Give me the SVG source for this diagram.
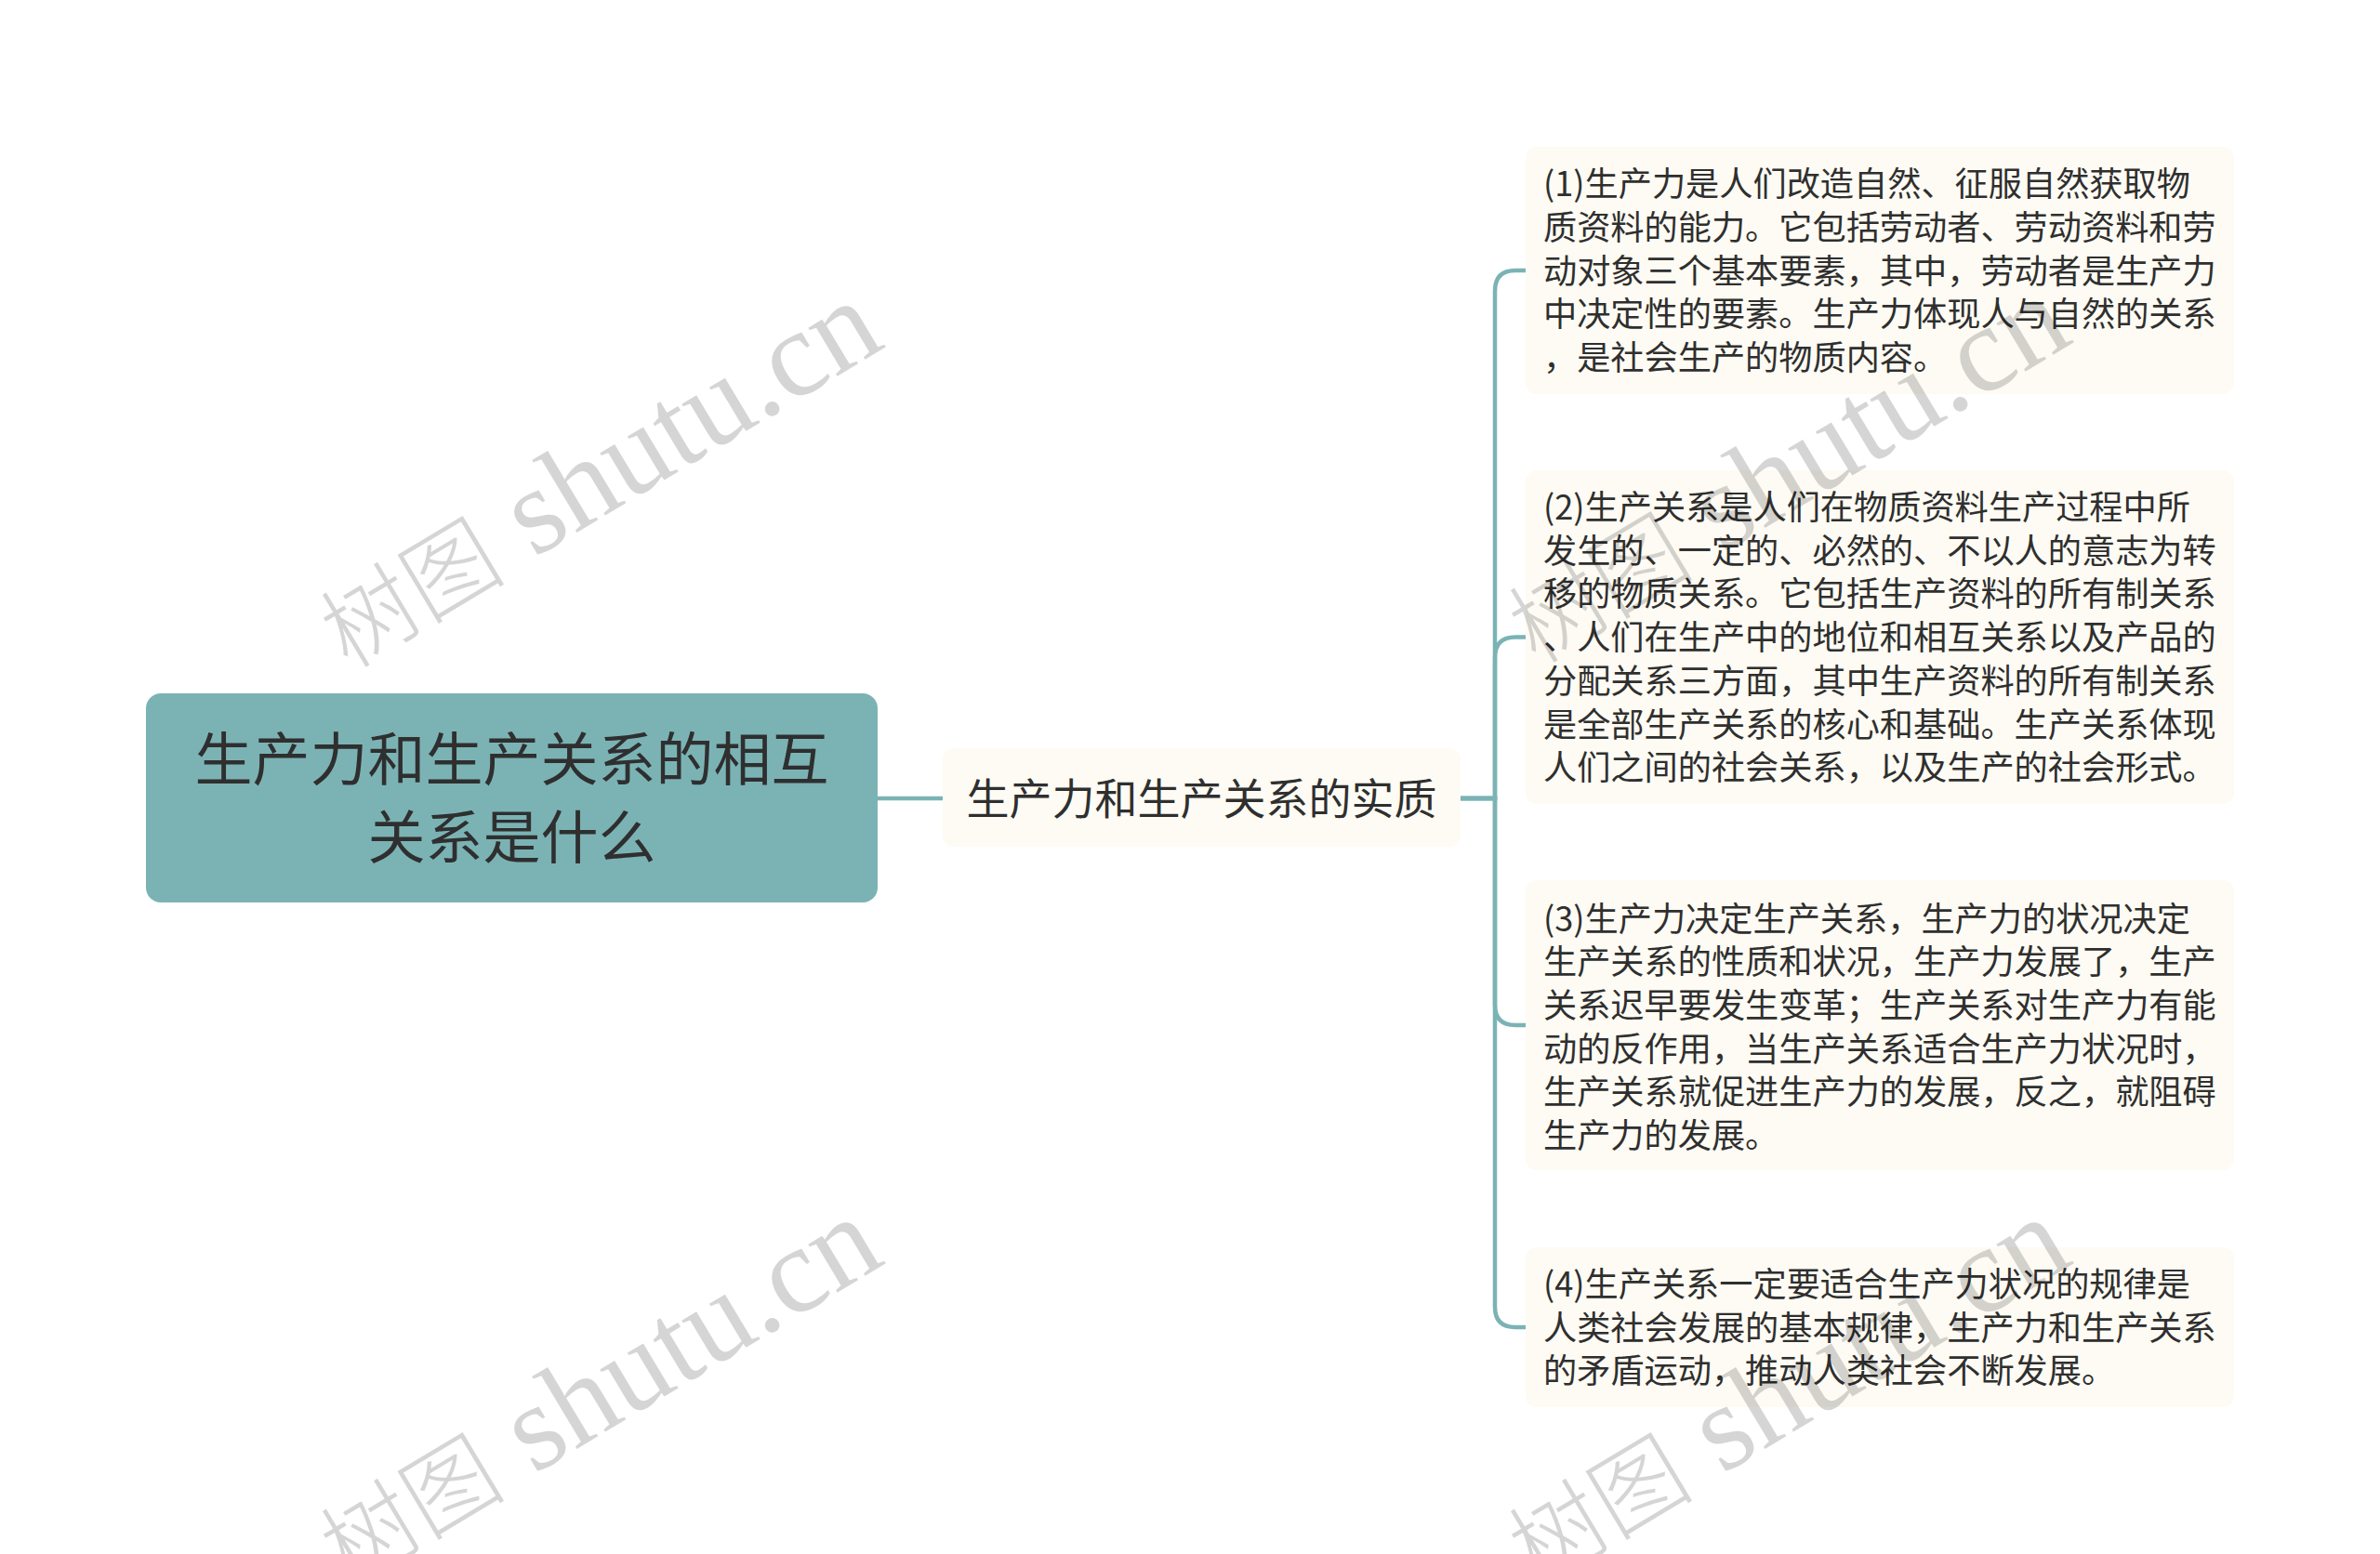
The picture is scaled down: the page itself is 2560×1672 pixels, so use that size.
<svg xmlns="http://www.w3.org/2000/svg" width="2560" height="1672" viewBox="0 0 2560 1672">
<style>
.bg{fill:#ffffff}
.root{fill:#7BB3B5}
.card{fill:#FDFBF3}
.link{fill:none;stroke:#7BB3B5;stroke-width:4.5;stroke-linecap:round}
.t{font-family:"Noto Sans CJK SC","Noto Sans",sans-serif;fill:#2f2f2f}
.rt{font-size:62px;text-anchor:middle}
.mt{font-size:46px;text-anchor:middle}
.ct{font-size:36.2px}
.wm{font-family:"Liberation Serif","Noto Sans CJK SC",serif;font-size:132px;fill:#000;opacity:0.16;text-anchor:middle}
.wz{font-family:"Noto Sans CJK SC",sans-serif;font-size:100px;font-weight:300}
</style>
<rect class="bg" x="0" y="0" width="2560" height="1672"/>
<g id="connectors">
<path class="link" d="M944 859 H1014"/>
<path class="link" d="M1571 859 H1608 V313 Q1608 291 1630 291 H1641"/>
<path class="link" d="M1571 859 H1608 V707.5 Q1608 685.5 1630 685.5 H1641"/>
<path class="link" d="M1571 859 H1608 V1081 Q1608 1103 1630 1103 H1641"/>
<path class="link" d="M1571 859 H1608 V1406 Q1608 1428 1630 1428 H1641"/>
</g>
<g id="root">
<rect class="root" x="157" y="746" width="787" height="225" rx="16"/>
<text class="t rt" x="550.5" y="839.6">生产力和生产关系的相互</text>
<text class="t rt" x="550.5" y="923.6">关系是什么</text>
</g>
<g id="mid">
<rect class="card" x="1014" y="805" width="557" height="106" rx="12"/>
<text class="t mt" x="1292.5" y="875.5">生产力和生产关系的实质</text>
</g>
<g id="c1">
<rect class="card" x="1641" y="158" width="762" height="266" rx="12"/>
<text class="t ct" x="1660" y="211.3">(1)生产力是人们改造自然、征服自然获取物</text>
<text class="t ct" x="1660" y="258">质资料的能力。它包括劳动者、劳动资料和劳</text>
<text class="t ct" x="1660" y="304.7">动对象三个基本要素，其中，劳动者是生产力</text>
<text class="t ct" x="1660" y="351.4">中决定性的要素。生产力体现人与自然的关系</text>
<text class="t ct" x="1660" y="398.1">，是社会生产的物质内容。</text>
</g>
<g id="c2">
<rect class="card" x="1641" y="506" width="762" height="359" rx="12"/>
<text class="t ct" x="1660" y="559">(2)生产关系是人们在物质资料生产过程中所</text>
<text class="t ct" x="1660" y="605.7">发生的、一定的、必然的、不以人的意志为转</text>
<text class="t ct" x="1660" y="652.4">移的物质关系。它包括生产资料的所有制关系</text>
<text class="t ct" x="1660" y="699.1">、人们在生产中的地位和相互关系以及产品的</text>
<text class="t ct" x="1660" y="745.8">分配关系三方面，其中生产资料的所有制关系</text>
<text class="t ct" x="1660" y="792.5">是全部生产关系的核心和基础。生产关系体现</text>
<text class="t ct" x="1660" y="839.2">人们之间的社会关系，以及生产的社会形式。</text>
</g>
<g id="c3">
<rect class="card" x="1641" y="947" width="762" height="312" rx="12"/>
<text class="t ct" x="1660" y="1001.5">(3)生产力决定生产关系，生产力的状况决定</text>
<text class="t ct" x="1660" y="1048.2">生产关系的性质和状况，生产力发展了，生产</text>
<text class="t ct" x="1660" y="1094.9">关系迟早要发生变革；生产关系对生产力有能</text>
<text class="t ct" x="1660" y="1141.6">动的反作用，当生产关系适合生产力状况时，</text>
<text class="t ct" x="1660" y="1188.3">生产关系就促进生产力的发展，反之，就阻碍</text>
<text class="t ct" x="1660" y="1235">生产力的发展。</text>
</g>
<g id="c4">
<rect class="card" x="1641" y="1342" width="762" height="172" rx="12"/>
<text class="t ct" x="1660" y="1395">(4)生产关系一定要适合生产力状况的规律是</text>
<text class="t ct" x="1660" y="1441.7">人类社会发展的基本规律，生产力和生产关系</text>
<text class="t ct" x="1660" y="1488.4">的矛盾运动，推动人类社会不断发展。</text>
</g>
<g id="watermarks">
<text class="wm" transform="translate(645 514) rotate(-31)" x="0" y="38"><tspan class="wz">树图</tspan> shutu.cn</text>
<text class="wm" transform="translate(1923 509) rotate(-31)" x="0" y="38"><tspan class="wz">树图</tspan> shutu.cn</text>
<text class="wm" transform="translate(645 1500) rotate(-31)" x="0" y="38"><tspan class="wz">树图</tspan> shutu.cn</text>
<text class="wm" transform="translate(1923 1500) rotate(-31)" x="0" y="38"><tspan class="wz">树图</tspan> shutu.cn</text>
</g>
</svg>
